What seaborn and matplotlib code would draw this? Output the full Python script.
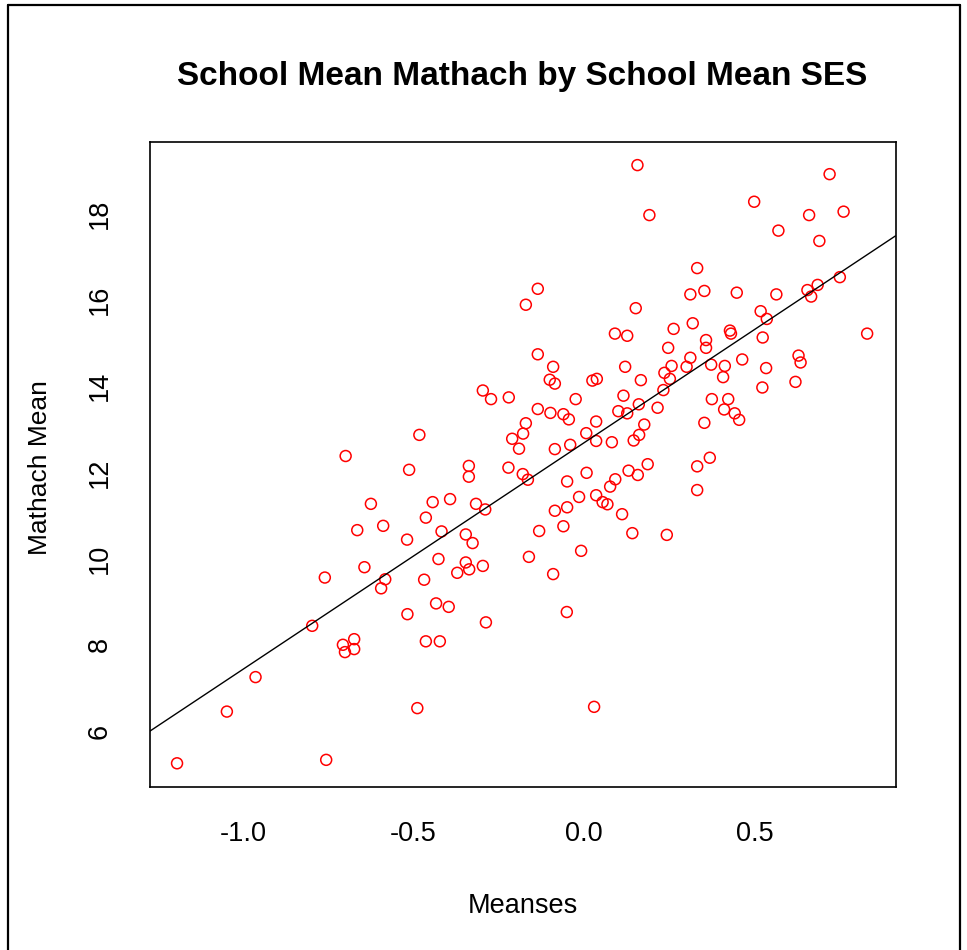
import numpy as np
import pandas as pd
import matplotlib
matplotlib.use("Agg")
import matplotlib.pyplot as plt
from matplotlib.lines import Line2D
import seaborn as sns

# ---- data ----
meanses = [
    -1.193, -1.047, -0.963, -0.797, -0.760, -0.756, -0.699, -0.707, -0.674, -0.701,
    -0.674, -0.644, -0.665, -0.625, -0.589, -0.583, -0.595,
    -0.136, -0.171, -0.136, -0.091, -0.101, -0.086, -0.297, -0.273, -0.221, -0.025,
    -0.136, -0.099, -0.061, -0.045, -0.171, 0.006, -0.483, -0.179, -0.211, -0.191,
    -0.086, -0.041, -0.513, -0.338, -0.338, -0.222, -0.180, -0.165, 0.007, -0.050,
    -0.015, -0.393, -0.444, -0.317, -0.290, -0.086, -0.050, -0.464, -0.061, -0.418,
    -0.347, -0.132, -0.519, -0.327, -0.009,
    -0.427, -0.347, -0.337, -0.372, -0.297, -0.469, -0.162, -0.091, -0.434, -0.397,
    -0.518, -0.288, -0.051, -0.464, -0.423, -0.489, 0.029,
    0.156, 0.191, 0.498, 0.331, 0.311, 0.352, 0.447, 0.151, 0.090, 0.126,
    0.262, 0.318, 0.427, 0.430, 0.246, 0.357, 0.357, 0.120, 0.256, 0.311,
    0.300, 0.372, 0.412, 0.463, 0.407, 0.235, 0.251, 0.166, 0.024, 0.037,
    0.115, 0.232,
    0.374, 0.422, 0.410, 0.441, 0.454, 0.352, 0.215, 0.160, 0.100, 0.126,
    0.035, 0.035, 0.081, 0.145, 0.161, 0.176, 0.186, 0.130, 0.157, 0.331,
    0.368, 0.331, 0.091, 0.076, 0.035, 0.054, 0.068, 0.111, 0.141, 0.242,
    0.719, 0.659, 0.760, 0.569, 0.689, 0.749, 0.563, 0.654, 0.684, 0.665,
    0.517, 0.535, 0.523, 0.829, 0.533, 0.628, 0.634, 0.619, 0.522,
]
mathach_mean = [
    5.25, 6.45, 7.25, 8.44, 9.56, 5.33, 12.38, 8.00, 8.13, 7.83,
    7.90, 9.80, 10.66, 11.27, 10.76, 9.52, 9.31,
    16.26, 15.89, 14.74, 14.45, 14.15, 14.06, 13.90, 13.70, 13.74, 13.70,
    13.47, 13.38, 13.35, 13.23, 13.14, 12.91, 12.87, 12.90, 12.78, 12.55,
    12.54, 12.64, 12.06, 12.15, 11.90, 12.11, 11.96, 11.83, 11.99, 11.79,
    11.43, 11.38, 11.31, 11.27, 11.14, 11.11, 11.19, 10.95, 10.75, 10.63,
    10.56, 10.64, 10.44, 10.36, 10.18,
    9.99, 9.91, 9.75, 9.67, 9.83, 9.51, 10.04, 9.64, 8.96, 8.88,
    8.71, 8.52, 8.76, 8.08, 8.08, 6.53, 6.56,
    19.13, 17.97, 18.28, 16.74, 16.13, 16.21, 16.17, 15.81, 15.22, 15.17,
    15.33, 15.46, 15.29, 15.22, 14.89, 15.07, 14.89, 14.45, 14.47, 14.66,
    14.45, 14.50, 14.47, 14.62, 14.21, 14.31, 14.17, 14.14, 14.13, 14.17,
    13.78, 13.91,
    13.70, 13.70, 13.46, 13.37, 13.22, 13.15, 13.50, 13.58, 13.42, 13.37,
    13.18, 12.73, 12.70, 12.74, 12.87, 13.11, 12.19, 12.04, 11.94, 12.14,
    12.34, 11.59, 11.84, 11.67, 11.47, 11.31, 11.26, 11.03, 10.59, 10.55,
    18.92, 17.97, 18.05, 17.61, 17.37, 16.53, 16.13, 16.23, 16.35, 16.08,
    15.74, 15.56, 15.13, 15.22, 14.42, 14.71, 14.55, 14.10, 13.97,
]
fit_intercept = 12.69
fit_slope = 5.26

x_ticks = [-1.0, -0.5, 0.0, 0.5]
x_tick_labels = ["-1.0", "-0.5", "0.0", "0.5"]
y_ticks = [6, 8, 10, 12, 14, 16, 18]
y_tick_labels = ["6", "8", "10", "12", "14", "16", "18"]

title = "School Mean Mathach by School Mean SES"
x_label = "Meanses"
y_label = "Mathach Mean"

df = pd.DataFrame({"meanses": meanses, "mathach": mathach_mean})

# ---- style ----
sns.set_style("white")
plt.rcParams["font.family"] = ["Liberation Sans", "DejaVu Sans"]
plt.rcParams["axes.unicode_minus"] = False

W, H = 967, 950
fig = plt.figure(figsize=(W / 100, H / 100), dpi=100)
fig.patch.set_facecolor("white")

left, right, top, bottom = 149.5, 895.5, 142, 787
ax = fig.add_axes([left / W, 1 - bottom / H, (right - left) / W, (bottom - top) / H])

sns.scatterplot(data=df, x="meanses", y="mathach", ax=ax, marker="o",
                s=62, facecolor="none", edgecolor="red", linewidth=1.1, legend=False)
ax.axline((0, fit_intercept), slope=fit_slope, color="black", linewidth=1.0)

ax.set_xlim(-1.2737, 0.9121)
ax.set_ylim(4.70, 19.666)
ax.set_xticks(x_ticks)
ax.set_xticklabels(x_tick_labels)
ax.set_yticks(y_ticks)
ax.set_yticklabels(y_tick_labels)

for sp in ax.spines.values():
    sp.set_color("black")
    sp.set_linewidth(1.2)

fs = 19.5
ax.tick_params(axis="both", direction="out", length=11.5, width=1.1, color="black",
               labelsize=fs, labelcolor="black")
ax.tick_params(axis="x", pad=13)
ax.tick_params(axis="y", pad=15)
for lab in ax.get_yticklabels():
    lab.set_rotation(90)
    lab.set_va("center")

ax.set_xlabel(x_label, fontsize=fs, color="black")
ax.set_ylabel(y_label, fontsize=19, color="black")
ax.xaxis.set_label_coords(0.5, (bottom - 906) / (bottom - top))
ax.xaxis.label.set_va("center")
ax.yaxis.set_label_coords((40 - left) / (right - left), (bottom - 468) / (bottom - top))
ax.yaxis.label.set_va("center")

fig.text((left + right) / 2 / W, 1 - 77 / H, title, ha="center", va="center",
         fontsize=24, fontweight="bold", color="black")

# outer frame of the original image (left, top, right edges)
frame_kw = dict(color="black", linewidth=1.6, transform=fig.transFigure)
fig.add_artist(Line2D([8 / W, 8 / W], [0, 1 - 5 / H], **frame_kw))
fig.add_artist(Line2D([8 / W, 960 / W], [1 - 5 / H, 1 - 5 / H], **frame_kw))
fig.add_artist(Line2D([960 / W, 960 / W], [0, 1 - 5 / H], **frame_kw))

fig.savefig("out.png", dpi=100)
